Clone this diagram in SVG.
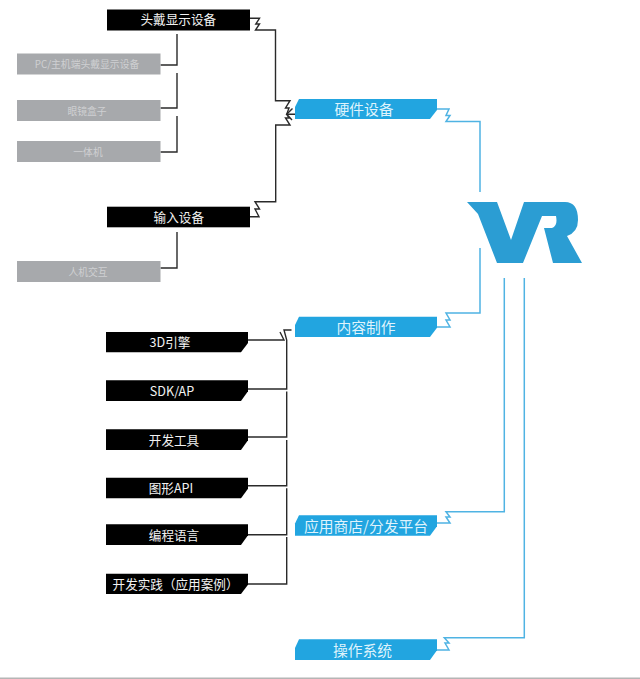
<svg xmlns="http://www.w3.org/2000/svg" width="640" height="679" viewBox="0 0 640 679">
<style>
text{font-family:"Noto Sans CJK SC","Noto Sans",sans-serif;text-anchor:middle;fill:#f2f2f2;font-size:12.6px}
.g text{font-size:9.8px;fill:#cfd0d2}
.t text{font-size:14.8px;fill:#dff3fc}
.k{fill:#000}.gr{fill:#a7a9ac}.b{fill:#22a5e0}.v{fill:#2b9dd3}
.c{fill:none;stroke:#2a2a2a;stroke-width:1.4}
.l{fill:none;stroke:#4fb3e3;stroke-width:1.5}
</style>
<rect width="640" height="679" fill="#fff"/>
<rect y="677.500" width="640" height="1.500" fill="#b5b5b5"/>
<g id="connectors">
<path class="c" d="M250,18.300H259.500L255.800,24H259.500L255.500,30H275.500V100.700H290L285.500,108H289L286.700,114.300H295"/>
<path class="c" d="M292.500,108.500L286.700,114.300L292,120M250,216.700H259L255,209H259.500L255,201.700H275.700V125H290L285.500,118H289L286.700,114.300"/>
<path class="c" d="M177,34V65H160.500M177,73V108H160.500M177,116V152H160.500M177,232V268H160.500"/>
<path class="c" d="M248,340H284L280,332M291.500,330H284L286.700,340V389H248M286.700,391.500V437H248M286.700,440V485.700H248M286.700,488.300V534.700H248M286.700,537V584H248"/>
<path class="l" d="M437,109H449L446,115.500H450L446,121.500H480V192M480,248V313H446L450,320H446L450,327H437M504.300,278V511.700H446L450,517H446L450,523H437M524.300,278V637.700H444.300L449,643H445L449,650H437"/>
</g>
<g id="vr-logo"><path class="v" d="M467,202H497L511,240L524,202H565Q578,202 578,220Q578,232 567,236L582,263H553L544,228H552Q558,226 556,216H542L523,263H497L478,214Z"/></g>
<g id="n1"><rect class="k" x="107" y="9.500" width="143" height="21"/><text x="178.300" y="24">头戴显示设备</text></g>
<g id="n2" class="g"><rect class="gr" x="17" y="53.500" width="143.500" height="21"/><text x="87" y="68">PC/主机端头戴显示设备</text></g>
<g id="n3" class="g"><rect class="gr" x="17" y="100" width="143.500" height="21"/><text x="87" y="115">眼镜盒子</text></g>
<g id="n4" class="g"><rect class="gr" x="17" y="141" width="143.500" height="21"/><text x="88" y="156">一体机</text></g>
<g id="n5"><rect class="k" x="107" y="206.700" width="143" height="20.600"/><text x="178.800" y="222">输入设备</text></g>
<g id="n6" class="g"><rect class="gr" x="17" y="261" width="143.500" height="21"/><text x="88" y="276">人机交互</text></g>
<g id="hw" class="t"><path class="b" d="M299,99H437V110L430,119H295V107Z"/><text x="364" y="115">硬件设备</text></g>
<g id="content" class="t"><path class="b" d="M299,316.700H437V327.700L430,337H295V325Z"/><text x="366" y="333">内容制作</text></g>
<g id="store" class="t"><path class="b" d="M299,515.300H437V526.300L430,535.700H295V523.500Z"/><text x="366" y="531.500">应用商店/分发平台</text></g>
<g id="os" class="t"><path class="b" d="M299,639.300H437V650.300L430,660H295V648Z"/><text x="362.500" y="656">操作系统</text></g>
<g id="m1"><path class="k" d="M106,332H248V343L241,352.300H106Z"/><text x="170" y="347">3D引擎</text></g>
<g id="m2"><path class="k" d="M106,380.300H248V391.300L241,401H106Z"/><text x="172" y="395.500">SDK/AP</text></g>
<g id="m3"><path class="k" d="M106,429.300H248V440.300L241,450H106Z"/><text x="174" y="444.500">开发工具</text></g>
<g id="m4"><path class="k" d="M106,477.700H248V488.700L241,498.300H106Z"/><text x="171" y="492.500">图形API</text></g>
<g id="m5"><path class="k" d="M106,524.300H248V535.300L241,545H106Z"/><text x="174" y="540">编程语言</text></g>
<g id="m6"><path class="k" d="M106,573.700H248V584.700L241,594H106Z"/><text x="175.500" y="589">开发实践（应用案例）</text></g>
</svg>
